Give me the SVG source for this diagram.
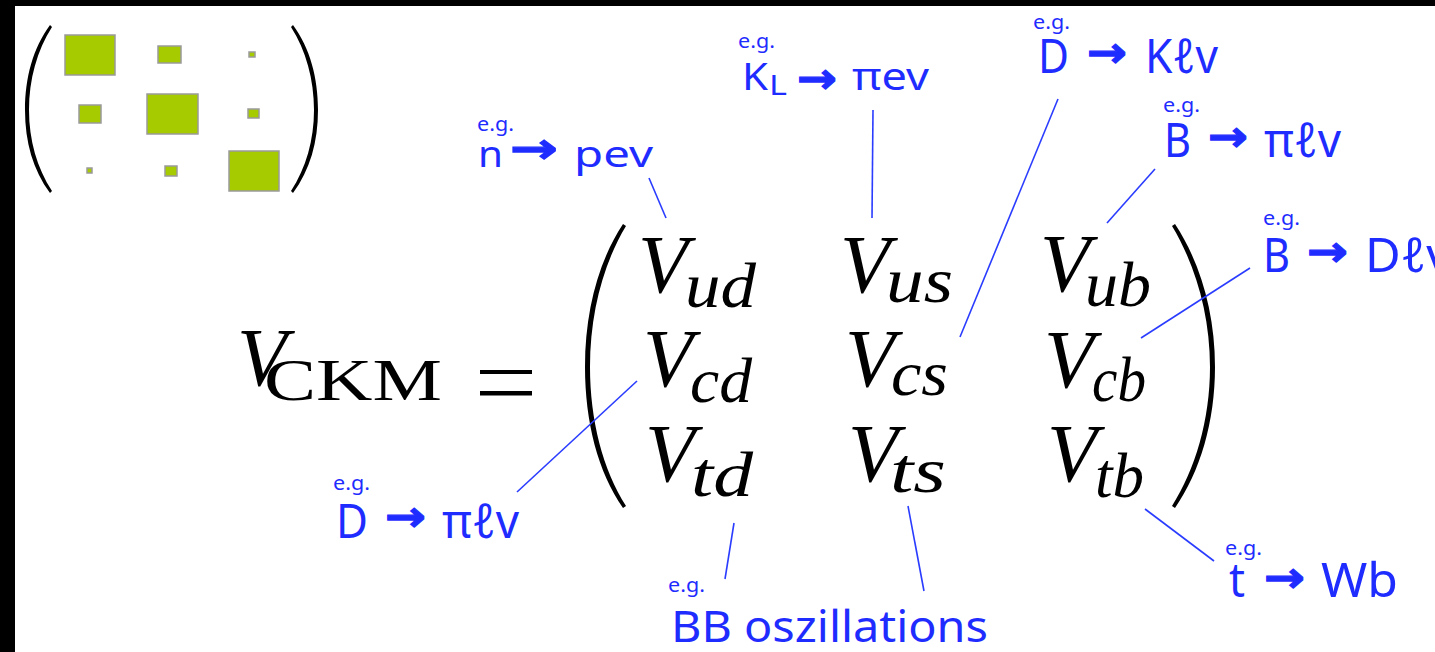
<svg xmlns="http://www.w3.org/2000/svg" width="1435" height="652" viewBox="0 0 1435 652">
<style>
.lbl{font-family:"Noto Sans","Open Sans","DejaVu Sans",sans-serif;fill:#1f2cff;}
.eg{font-size:19px;}
.big{font-size:48px;}
.arr{font-family:"DejaVu Sans",sans-serif;font-weight:bold;font-size:42px;fill:#1f2cff;stroke:#1f2cff;stroke-width:1.2;}
.mv{font-family:"Liberation Serif","Times New Roman",serif;font-style:italic;font-size:82px;fill:#000;}
.ms{font-family:"Liberation Serif","Times New Roman",serif;font-style:italic;font-size:64px;fill:#000;}
.sq{fill:#a6cc00;stroke:#9a9a9a;stroke-width:1.5;}
.con line{stroke:#2a3cff;stroke-width:1.6;}
</style>
<rect x="0" y="0" width="1435" height="652" fill="#fff"/>
<rect x="0" y="0" width="1435" height="6" fill="#000"/>
<rect x="0" y="0" width="15" height="652" fill="#000"/>

<g id="small-matrix">
<path d="M50,25 C33,48 25,78 25,110 C25,142 33,170 50,193 L52,191 C37,168 29,140 29,110 C29,80 37,50 52,27 Z" fill="#000"/>
<path d="M293,25 C310,48 318,78 318,110 C318,142 310,170 293,193 L291,191 C306,168 314,140 314,110 C314,80 306,50 291,27 Z" fill="#000"/>
<rect class="sq" x="65" y="35" width="50" height="40"/>
<rect class="sq" x="158" y="46" width="23" height="17"/>
<rect class="sq" x="249" y="52" width="6" height="5"/>
<rect class="sq" x="79" y="105" width="22" height="18"/>
<rect class="sq" x="147" y="94" width="51" height="40"/>
<rect class="sq" x="248" y="109" width="11" height="9"/>
<rect class="sq" x="87" y="168" width="5" height="5"/>
<rect class="sq" x="165" y="166" width="12" height="10"/>
<rect class="sq" x="229" y="151" width="50" height="40"/>
</g>

<g id="equation">
<text class="mv" x="237" y="385">V</text>
<text x="264" y="400" font-family="Liberation Serif,serif" font-size="60" textLength="178" lengthAdjust="spacingAndGlyphs">CKM</text>
<rect x="480" y="370" width="52" height="4"/>
<rect x="480" y="391" width="52" height="4.5"/>
<path d="M623,224 C598,262 585,312 585,367 C585,422 598,472 623,508 L626,506 C603,470 590,420 590,367 C590,314 603,264 626,226 Z" fill="#000"/>
<path d="M1175,224 C1200,262 1215,312 1215,367 C1215,422 1200,472 1175,508 L1172,506 C1195,470 1210,420 1210,367 C1210,314 1195,264 1172,226 Z" fill="#000"/>
</g>

<g id="Vud"><text class="mv" x="638" y="292">V</text><text class="ms" x="685" y="307" textLength="71" lengthAdjust="spacingAndGlyphs">ud</text></g>
<g id="Vus"><text class="mv" x="840" y="292">V</text><text class="ms" x="886" y="302" textLength="67" lengthAdjust="spacingAndGlyphs">us</text></g>
<g id="Vub"><text class="mv" x="1040" y="291">V</text><text class="ms" x="1085" y="306" textLength="66" lengthAdjust="spacingAndGlyphs">ub</text></g>
<g id="Vcd"><text class="mv" x="643" y="386">V</text><text class="ms" x="690" y="402" textLength="62" lengthAdjust="spacingAndGlyphs">cd</text></g>
<g id="Vcs"><text class="mv" x="845" y="386">V</text><text class="ms" x="891" y="395" textLength="57" lengthAdjust="spacingAndGlyphs">cs</text></g>
<g id="Vcb"><text class="mv" x="1044" y="387">V</text><text class="ms" x="1092" y="401" textLength="54" lengthAdjust="spacingAndGlyphs">cb</text></g>
<g id="Vtd"><text class="mv" x="645" y="481">V</text><text class="ms" x="691" y="496" textLength="62" lengthAdjust="spacingAndGlyphs">td</text></g>
<g id="Vts"><text class="mv" x="848" y="481">V</text><text class="ms" x="890" y="492" textLength="56" lengthAdjust="spacingAndGlyphs">ts</text></g>
<g id="Vtb"><text class="mv" x="1047" y="481">V</text><text class="ms" x="1095" y="497" textLength="49" lengthAdjust="spacingAndGlyphs">tb</text></g>

<g class="con" id="connectors">
<line x1="649" y1="178" x2="666" y2="218"/>
<line x1="873" y1="110" x2="872" y2="218"/>
<line x1="1058" y1="99" x2="960" y2="337"/>
<line x1="1155" y1="169" x2="1107" y2="223"/>
<line x1="1250" y1="268" x2="1141" y2="338"/>
<line x1="637" y1="381" x2="517" y2="492"/>
<line x1="734" y1="523" x2="725" y2="579"/>
<line x1="908" y1="506" x2="924" y2="591"/>
<line x1="1145" y1="509" x2="1214" y2="561"/>
</g>

<g id="label-n-pev">
<text class="lbl eg" x="477" y="131" textLength="37" lengthAdjust="spacingAndGlyphs">e.g.</text>
<text class="lbl" x="478" y="167" font-size="37" textLength="25" lengthAdjust="spacingAndGlyphs">n</text>
<text class="arr" x="510" y="163" textLength="48" lengthAdjust="spacingAndGlyphs">→</text>
<text class="lbl" x="574" y="167" font-size="37" textLength="79" lengthAdjust="spacingAndGlyphs">pev</text>
</g>

<g id="label-KL-piev">
<text class="lbl eg" x="738" y="48" textLength="37" lengthAdjust="spacingAndGlyphs">e.g.</text>
<text class="lbl" x="742" y="90" font-size="39" textLength="26" lengthAdjust="spacingAndGlyphs">K</text>
<text class="lbl" x="769" y="95" font-size="27" textLength="18" lengthAdjust="spacingAndGlyphs">L</text>
<text class="arr" x="797" y="93" textLength="40" lengthAdjust="spacingAndGlyphs">→</text>
<text class="lbl" x="852" y="90" font-size="39" textLength="77" lengthAdjust="spacingAndGlyphs">πev</text>
</g>

<g id="label-D-Klv">
<text class="lbl eg" x="1033" y="29" textLength="37" lengthAdjust="spacingAndGlyphs">e.g.</text>
<text class="lbl big" x="1038" y="73" textLength="31" lengthAdjust="spacingAndGlyphs">D</text>
<text class="arr" x="1087" y="67" textLength="40" lengthAdjust="spacingAndGlyphs">→</text>
<text class="lbl big" x="1145" y="73" textLength="73" lengthAdjust="spacingAndGlyphs">Kℓv</text>
</g>

<g id="label-B-pilv">
<text class="lbl eg" x="1163" y="112" textLength="37" lengthAdjust="spacingAndGlyphs">e.g.</text>
<text class="lbl big" x="1164" y="157" textLength="27" lengthAdjust="spacingAndGlyphs">B</text>
<text class="arr" x="1208" y="151" textLength="40" lengthAdjust="spacingAndGlyphs">→</text>
<text class="lbl big" x="1264" y="157" textLength="77" lengthAdjust="spacingAndGlyphs">πℓv</text>
</g>

<g id="label-B-Dlv">
<text class="lbl eg" x="1263" y="225" textLength="37" lengthAdjust="spacingAndGlyphs">e.g.</text>
<text class="lbl big" x="1263" y="272" textLength="27" lengthAdjust="spacingAndGlyphs">B</text>
<text class="arr" x="1307" y="266" textLength="41" lengthAdjust="spacingAndGlyphs">→</text>
<text class="lbl big" x="1365" y="272" textLength="86" lengthAdjust="spacingAndGlyphs">Dℓv</text>
</g>

<g id="label-D-pilv">
<text class="lbl eg" x="333" y="490" textLength="37" lengthAdjust="spacingAndGlyphs">e.g.</text>
<text class="lbl big" x="336" y="538" textLength="32" lengthAdjust="spacingAndGlyphs">D</text>
<text class="arr" x="385" y="531" textLength="41" lengthAdjust="spacingAndGlyphs">→</text>
<text class="lbl big" x="442" y="538" textLength="77" lengthAdjust="spacingAndGlyphs">πℓv</text>
</g>

<g id="label-BB">
<text class="lbl eg" x="668" y="592" textLength="37" lengthAdjust="spacingAndGlyphs">e.g.</text>
<text class="lbl" x="671" y="642" font-size="43" textLength="317" lengthAdjust="spacingAndGlyphs">BB oszillations</text>
</g>

<g id="label-t-Wb">
<text class="lbl eg" x="1225" y="555" textLength="37" lengthAdjust="spacingAndGlyphs">e.g.</text>
<text class="lbl big" x="1229" y="597" textLength="16" lengthAdjust="spacingAndGlyphs">t</text>
<text class="arr" x="1264" y="592" textLength="41" lengthAdjust="spacingAndGlyphs">→</text>
<text class="lbl big" x="1321" y="597" textLength="77" lengthAdjust="spacingAndGlyphs">Wb</text>
</g>
</svg>
